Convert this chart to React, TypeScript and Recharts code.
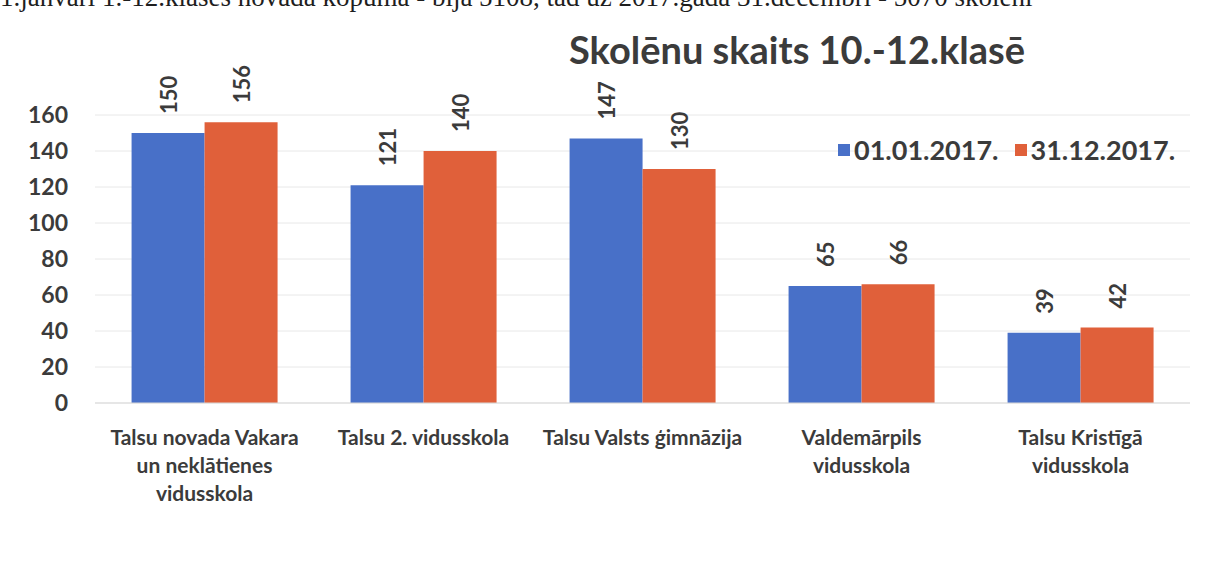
import { BarChart, Bar, XAxis, YAxis, CartesianGrid, LabelList } from 'recharts';

const categories = [
  'Talsu novada Vakara\nun neklātienes\nvidusskola',
  'Talsu 2. vidusskola',
  'Talsu Valsts ģimnāzija',
  'Valdemārpils\nvidusskola',
  'Talsu Kristīgā\nvidusskola',
];
const start2017 = [150, 121, 147, 65, 39];
const end2017 = [156, 140, 130, 66, 42];
const yTicks = [0, 20, 40, 60, 80, 100, 120, 140, 160];

const seriesNames = ['01.01.2017.', '31.12.2017.'];
const BLUE = '#4870c8';
const ORANGE = '#e0603a';
const TEXT = '#3b3b3b';
const FONT = 'Lato, "Open Sans", sans-serif';

const data = categories.map((name, i) => ({
  name,
  a: start2017[i],
  b: end2017[i],
}));

function CategoryTick(props: any) {
  const { x, y, payload } = props;
  const lines = String(payload.value).split('\n');
  return (
    <g transform={`translate(${x},${y})`}>
      {lines.map((ln, i) => (
        <text key={i} x={0} y={i * 28} dy={34} textAnchor="middle"
          fill={TEXT} fontSize={21} fontWeight={700} fontFamily={FONT}>
          {ln}
        </text>
      ))}
    </g>
  );
}

function RotatedLabel(props: any) {
  const { x, y, width, value } = props;
  const cx = x + width / 2;
  const ty = y - 19;
  return (
    <text x={cx} y={ty} transform={`rotate(-90 ${cx} ${ty})`} textAnchor="start"
      dominantBaseline="central" fill={TEXT} fontSize={22} fontWeight={700} fontFamily={FONT}>
      {value}
    </text>
  );
}

export default function App() {
  const colors = [BLUE, ORANGE];
  return (
    <div style={{ position: 'absolute', top: 0, left: 0, width: 1223, height: 584, background: '#fff', overflow: 'hidden' }}>
      <div style={{ position: 'absolute', top: -18, left: 0, whiteSpace: 'nowrap', fontFamily: '"Liberation Serif", serif', fontSize: 27, color: '#1e1e1e' }}>
        1.janvārī 1.-12.klasēs novadā kopumā - bija 5108, tad uz 2017.gada 31.decembrī - 5070 skolēni
      </div>
      <div style={{ position: 'absolute', top: 26, left: 537, width: 520, textAlign: 'center', fontFamily: FONT, fontWeight: 700, fontSize: 38, color: TEXT }}>
        Skolēnu skaits 10.-12.klasē
      </div>
      <div style={{ position: 'absolute', top: 133, left: 838, display: 'flex', alignItems: 'center', fontFamily: FONT, fontWeight: 700, fontSize: 27, color: TEXT, zIndex: 2 }}>
        {seriesNames.map((n, i) => (
          <div key={n} style={{ display: 'flex', alignItems: 'center', marginRight: 16 }}>
            <span style={{ display: 'inline-block', width: 12, height: 12, background: colors[i], marginRight: 4 }} />
            {n}
          </div>
        ))}
      </div>
      <BarChart width={1223} height={584} data={data}
        margin={{ top: 115, right: 33, bottom: 81, left: 0 }}
        barCategoryGap="16.7%" barGap={0}>
        <CartesianGrid vertical={false} stroke="#e8e8e8" />
        <XAxis dataKey="name" interval={0} height={100} tick={<CategoryTick />}
          tickLine={false} axisLine={{ stroke: '#d9d9d9' }} />
        <YAxis width={95} domain={[0, 160]} ticks={yTicks} tickLine={false} axisLine={false}
          tickMargin={21} tick={{ fill: TEXT, fontSize: 23, fontWeight: 700, fontFamily: FONT }} />
        <Bar dataKey="a" name={seriesNames[0]} fill={BLUE} isAnimationActive={false}>
          <LabelList dataKey="a" content={<RotatedLabel />} />
        </Bar>
        <Bar dataKey="b" name={seriesNames[1]} fill={ORANGE} isAnimationActive={false}>
          <LabelList dataKey="b" content={<RotatedLabel />} />
        </Bar>
      </BarChart>
    </div>
  );
}
